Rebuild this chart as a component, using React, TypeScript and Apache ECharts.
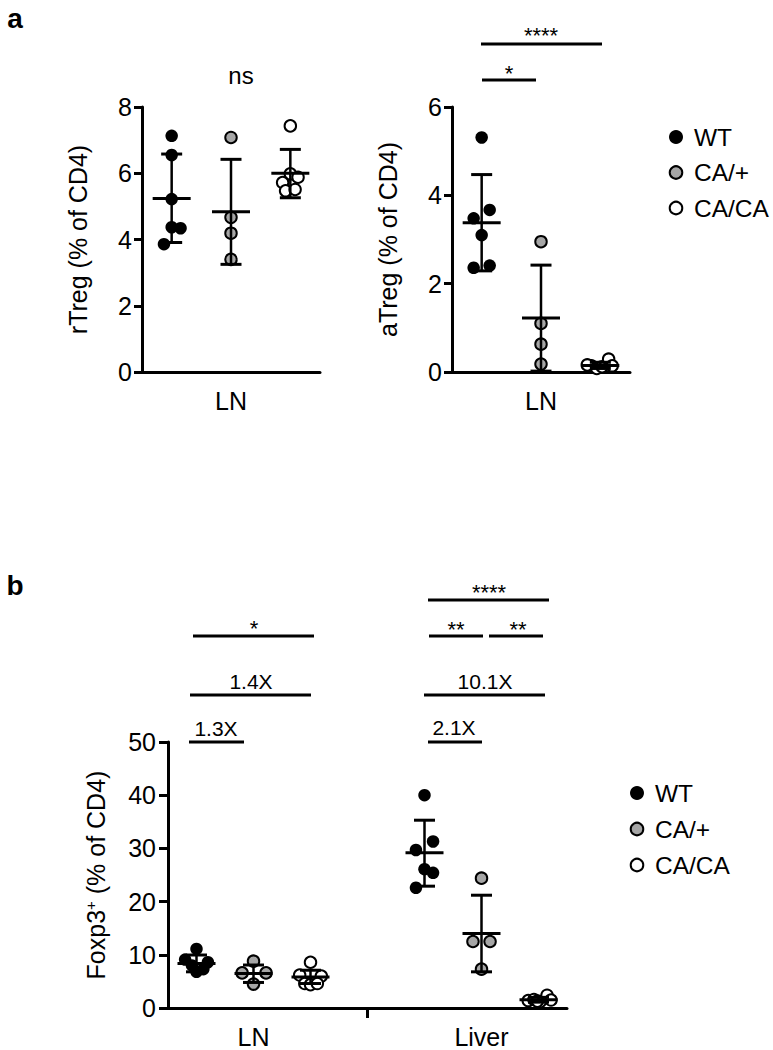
import React, { useEffect, useRef } from 'react';
import * as echarts from 'echarts';

const GENOTYPES = ['WT', 'CA/+', 'CA/CA'];
const FILLS = ['#000000', '#a6a6a6', '#ffffff'];

// Panel a (left): rTreg (% of CD4), LN
const rTregWT = [7.13, 6.55, 5.22, 4.37, 4.34, 3.86];
const rTregWTJitter = [0, 0, 0, 0, 0.15, -0.13];
const rTregCAp = [7.08, 4.67, 4.19, 3.4];
const rTregCApJitter = [0, 0, 0, 0];
const rTregCACA = [7.43, 5.98, 5.88, 5.72, 5.47, 5.51];
const rTregCACAJitter = [0, 0, 0.13, -0.13, -0.08, 0.08];
const rTregMean = [5.24, 4.84, 6.0];
const rTregSdLow = [3.91, 3.25, 5.26];
const rTregSdHigh = [6.58, 6.42, 6.72];

// Panel a (right): aTreg (% of CD4), LN
const aTregWT = [5.31, 3.67, 3.48, 3.1, 2.36, 2.41];
const aTregWTJitter = [0, 0.135, -0.135, 0, -0.135, 0.135];
const aTregCAp = [2.95, 1.1, 0.63, 0.18];
const aTregCApJitter = [0, 0, 0, 0];
const aTregCACA = [0.14, 0.08, 0.12, 0.29, 0.14, 0.16];
const aTregCACAJitter = [-0.15, -0.06, 0.03, 0.14, 0.2, -0.22];
const aTregMean = [3.38, 1.22, 0.15];
const aTregSdLow = [2.29, 0.02, 0.08];
const aTregSdHigh = [4.47, 2.42, 0.22];

// Panel b: Foxp3+ (% of CD4), LN and Liver
const foxp3Categories = ['', 'LN', '', '', '', 'Liver', ''];
const foxp3Pos = [0, 1, 2, 4, 5, 6];
const foxp3LnWT = [11.1, 9.1, 8.6, 8.0, 7.3, 6.8];
const foxp3LnWTJitter = [0, -0.2, 0.2, -0.08, 0.12, 0];
const foxp3LnCAp = [8.8, 6.6, 6.6, 4.5];
const foxp3LnCApJitter = [0, -0.2, 0.22, 0];
const foxp3LnCACA = [8.6, 6.2, 6.0, 4.6, 4.4, 4.6];
const foxp3LnCACAJitter = [0, -0.19, 0.19, -0.1, 0, 0.12];
const foxp3LiverWT = [40.0, 31.3, 29.7, 26.1, 25.4, 22.6];
const foxp3LiverWTJitter = [0, 0.15, -0.15, 0, 0.15, -0.15];
const foxp3LiverCAp = [24.4, 12.5, 12.5, 7.3];
const foxp3LiverCApJitter = [0, -0.15, 0.15, 0];
const foxp3LiverCACA = [1.4, 1.6, 1.2, 2.4, 1.5, 1.3];
const foxp3LiverCACAJitter = [-0.18, -0.08, 0.03, 0.15, 0.22, -0.02];
const foxp3Mean = [8.35, 6.5, 5.85, 29.2, 14.0, 1.55];
const foxp3SdLow = [6.8, 4.8, 4.6, 22.9, 6.8, 1.1];
const foxp3SdHigh = [9.96, 8.08, 7.1, 35.3, 21.2, 2.0];

const yTicksA1 = { min: 0, max: 8, interval: 2 };
const yTicksA2 = { min: 0, max: 6, interval: 2 };
const yTicksB = { min: 0, max: 50, interval: 10 };

const FONT = 'Liberation Sans, Arial, Helvetica, sans-serif';

function pts(values: number[], jitter: number[], pos: number) {
  return values.map((v, i) => [pos + jitter[i], v]);
}

function scatter(gi: number, data: number[][], xAxisIndex: number, yAxisIndex: number) {
  return {
    type: 'scatter',
    name: GENOTYPES[gi],
    xAxisIndex,
    yAxisIndex,
    data,
    symbol: 'circle',
    symbolSize: gi === 0 ? 12.5 : 11.5,
    silent: true,
    z: 2,
    itemStyle: { color: FILLS[gi], borderColor: '#000', borderWidth: gi === 0 ? 0 : 2, opacity: 1 },
  };
}

function errorBars(xAxisIndex: number, yAxisIndex: number, pos: number[], mean: number[], lo: number[], hi: number[]) {
  return {
    type: 'custom',
    xAxisIndex,
    yAxisIndex,
    silent: true,
    clip: false,
    z: 3,
    data: pos.map((p, i) => [p, mean[i], lo[i], hi[i]]),
    renderItem: (params: any, api: any) => {
      const x = api.value(0);
      const pm = api.coord([x, api.value(1)]);
      const pl = api.coord([x, api.value(2)]);
      const ph = api.coord([x, api.value(3)]);
      const st = { stroke: '#000', lineWidth: 3 };
      return {
        type: 'group',
        children: [
          { type: 'line', shape: { x1: pl[0], y1: pl[1], x2: ph[0], y2: ph[1] }, style: { stroke: '#000', lineWidth: 2.5 } },
          { type: 'line', shape: { x1: pm[0] - 19, y1: pm[1], x2: pm[0] + 19, y2: pm[1] }, style: st },
          { type: 'line', shape: { x1: ph[0] - 10.5, y1: ph[1], x2: ph[0] + 10.5, y2: ph[1] }, style: st },
          { type: 'line', shape: { x1: pl[0] - 10.5, y1: pl[1], x2: pl[0] + 10.5, y2: pl[1] }, style: st },
        ],
      };
    },
  };
}

function yAxis(gridIndex: number, t: any, name: string, fontSize: number, nameGap: number, margin: number, tickLen: number, rich?: any) {
  return {
    type: 'value',
    gridIndex,
    min: t.min,
    max: t.max,
    interval: t.interval,
    name,
    nameLocation: 'middle',
    nameGap,
    nameTextStyle: { fontSize: 25, color: '#000', fontFamily: FONT, rich },
    axisLine: { show: true, onZero: false, lineStyle: { color: '#000', width: 3 } },
    axisTick: { show: true, length: tickLen, lineStyle: { color: '#000', width: 3 } },
    axisLabel: { fontSize, color: '#000', fontFamily: FONT, margin },
    splitLine: { show: false },
  };
}

function catAxis(gridIndex: number, data: string[], tickIndex: number | null) {
  return {
    type: 'category',
    gridIndex,
    data,
    boundaryGap: true,
    axisLine: { show: true, onZero: false, lineStyle: { color: '#000', width: 3 } },
    axisTick: {
      show: tickIndex !== null,
      alignWithLabel: true,
      interval: (i: number) => i === tickIndex,
      length: 10,
      lineStyle: { color: '#000', width: 3 },
    },
    axisLabel: { interval: 0, fontSize: 25, color: '#000', fontFamily: FONT, margin: 16 },
    splitLine: { show: false },
  };
}

function hiddenX(gridIndex: number, min: number, max: number) {
  return { type: 'value', gridIndex, min, max, show: false, splitLine: { show: false } };
}

function txt(text: string, x: number, y: number, size: number, extra: any = {}) {
  return {
    type: 'text',
    silent: true,
    style: { text, x, y, fill: '#000', font: `${size}px ${FONT}`, textAlign: 'center', textVerticalAlign: 'middle', verticalAlign: 'middle', ...extra },
  };
}

function bar(x1: number, x2: number, y: number) {
  return { type: 'line', silent: true, shape: { x1, y1: y, x2, y2: y }, style: { stroke: '#000', lineWidth: 3 } };
}

function legendItems(cx: number, cy0: number, step: number) {
  const out: any[] = [];
  GENOTYPES.forEach((g, i) => {
    const cy = cy0 + i * step;
    out.push({
      type: 'circle',
      silent: true,
      shape: { cx, cy, r: i === 0 ? 7 : 6.3 },
      style: { fill: FILLS[i], stroke: '#000', lineWidth: i === 0 ? 0 : 2 },
    });
    out.push({
      type: 'text',
      silent: true,
      style: { text: g, x: cx + 18, y: cy, fill: '#000', font: `24.5px ${FONT}`, textAlign: 'left', textVerticalAlign: 'middle', verticalAlign: 'middle' },
    });
  });
  return out;
}

export default function App() {
  const ref = useRef<HTMLDivElement>(null);
  useEffect(() => {
    if (!ref.current) return;
    const chart = echarts.init(ref.current, undefined, { renderer: 'svg' });
    const star = 5;
    const option: any = {
      animation: false,
      backgroundColor: '#fff',
      textStyle: { fontFamily: FONT },
      grid: [
        { left: 142, top: 107, width: 178, height: 265 },
        { left: 452, top: 107, width: 178, height: 265 },
        { left: 168, top: 742, width: 399, height: 266 },
      ],
      xAxis: [
        catAxis(0, ['', 'LN', ''], null),
        hiddenX(0, -0.5, 2.5),
        catAxis(1, ['', 'LN', ''], null),
        hiddenX(1, -0.5, 2.5),
        catAxis(2, foxp3Categories, 3),
        hiddenX(2, -0.5, 6.5),
      ],
      yAxis: [
        yAxis(0, yTicksA1, 'rTreg (% of CD4)', 25, 52, 10, 8),
        yAxis(1, yTicksA2, 'aTreg (% of CD4)', 25, 52, 10, 8),
        yAxis(2, yTicksB, 'Foxp3{sup|+} (% of CD4)', 25, 60, 12, 9, {
          sup: { fontSize: 15, verticalAlign: 'top', padding: [0, 0, 10, 0] },
        }),
      ],
      series: [
        scatter(0, pts(rTregWT, rTregWTJitter, 0), 1, 0),
        scatter(1, pts(rTregCAp, rTregCApJitter, 1), 1, 0),
        scatter(2, pts(rTregCACA, rTregCACAJitter, 2), 1, 0),
        errorBars(1, 0, [0, 1, 2], rTregMean, rTregSdLow, rTregSdHigh),
        scatter(0, pts(aTregWT, aTregWTJitter, 0), 3, 1),
        scatter(1, pts(aTregCAp, aTregCApJitter, 1), 3, 1),
        scatter(2, pts(aTregCACA, aTregCACAJitter, 2), 3, 1),
        errorBars(3, 1, [0, 1, 2], aTregMean, aTregSdLow, aTregSdHigh),
        scatter(0, [...pts(foxp3LnWT, foxp3LnWTJitter, foxp3Pos[0]), ...pts(foxp3LiverWT, foxp3LiverWTJitter, foxp3Pos[3])], 5, 2),
        scatter(1, [...pts(foxp3LnCAp, foxp3LnCApJitter, foxp3Pos[1]), ...pts(foxp3LiverCAp, foxp3LiverCApJitter, foxp3Pos[4])], 5, 2),
        scatter(2, [...pts(foxp3LnCACA, foxp3LnCACAJitter, foxp3Pos[2]), ...pts(foxp3LiverCACA, foxp3LiverCACAJitter, foxp3Pos[5])], 5, 2),
        errorBars(5, 2, foxp3Pos, foxp3Mean, foxp3SdLow, foxp3SdHigh),
      ],
      graphic: [
        txt('a', 15, 18, 28, { font: `bold 28px ${FONT}` }),
        txt('b', 15, 585, 28, { font: `bold 28px ${FONT}` }),
        // panel a annotations
        txt('ns', 241, 75, 24),
        txt('****', 541, 30 + star, 22),
        bar(481, 602, 44),
        txt('*', 509, 68 + star, 22),
        bar(482, 536, 80),
        // panel b annotations
        txt('*', 254, 623 + star, 22),
        bar(193, 314, 636),
        txt('1.4X', 251, 681, 21),
        bar(190, 311, 695),
        txt('1.3X', 216, 728, 21),
        bar(189, 244, 742),
        txt('****', 489, 587 + star, 22),
        bar(428, 549, 600),
        txt('**', 456, 624 + star, 22),
        bar(429, 483, 636),
        txt('**', 518, 624 + star, 22),
        bar(489, 543, 636),
        txt('10.1X', 485, 681, 21),
        bar(424, 545, 695),
        txt('2.1X', 454, 727, 21),
        bar(428, 482, 742),
        ...legendItems(676, 137, 35.5),
        ...legendItems(637, 793, 36),
      ],
    };
    chart.setOption(option);
    return () => chart.dispose();
  }, []);
  return <div ref={ref} style={{ position: 'absolute', left: 0, top: 0, width: 773, height: 1050 }} />;
}
